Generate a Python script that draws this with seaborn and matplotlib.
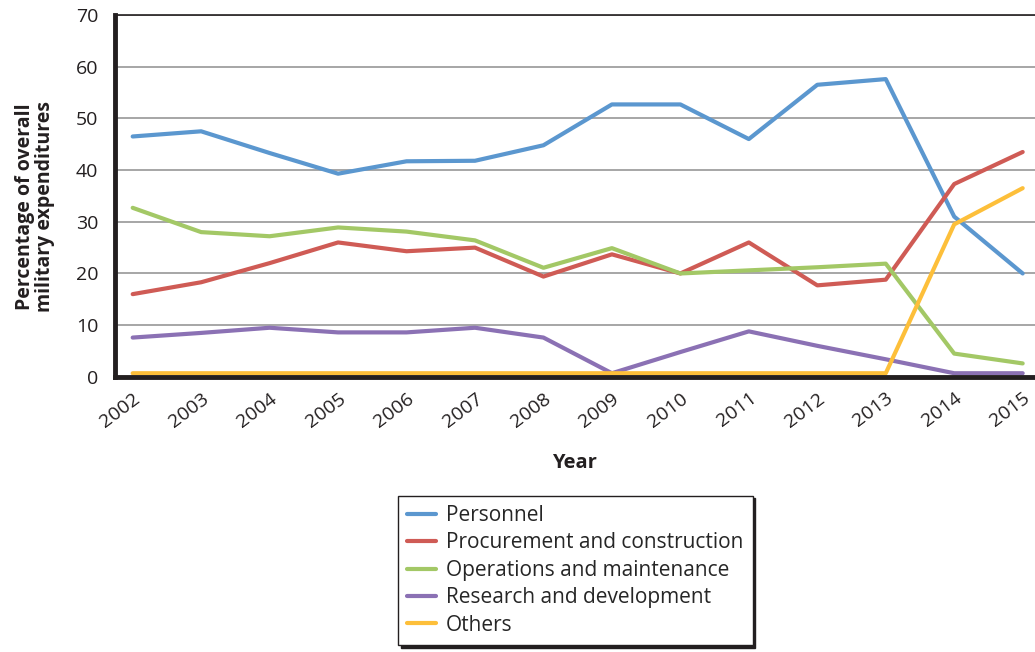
import numpy as np
import pandas as pd
import seaborn as sns
import matplotlib.pyplot as plt

# dados
years = list(range(2002, 2016))
personnel = [46.5, 47.5, 43.3, 39.3, 41.7, 41.8, 44.8, 52.7, 52.7, 46.0, 56.5, 57.6, 31.0, 20.0]
procurement = [16.0, 18.3, 22.0, 26.0, 24.3, 25.0, 19.4, 23.7, 20.0, 26.0, 17.7, 18.8, 37.3, 43.5]
operations = [32.7, 28.0, 27.2, 28.9, 28.1, 26.4, 21.1, 24.9, 20.0, 20.6, 21.2, 21.9, 4.5, 2.6]
research = [7.6, 8.5, 9.5, 8.6, 8.6, 9.5, 7.6, 0.7, 4.8, 8.8, 6.0, 3.4, 0.7, 0.7]
others = [0.7, 0.7, 0.7, 0.7, 0.7, 0.7, 0.7, 0.7, 0.7, 0.7, 0.7, 0.7, 29.5, 36.5]

series_names = ['Personnel', 'Procurement and construction', 'Operations and maintenance',
                'Research and development', 'Others']
colors = ['#5b97cf', '#cf5b55', '#a3c866', '#8b71b4', '#fdbf3a']

df = pd.DataFrame({'Year': years})
for name, vals in zip(series_names, [personnel, procurement, operations, research, others]):
    df[name] = vals
long = df.melt(id_vars='Year', var_name='series', value_name='value')

sns.set_style('white')
plt.rcParams['font.family'] = ['Open Sans', 'DejaVu Sans']

fig = plt.figure(figsize=(10.35, 6.52), dpi=100)
ax = fig.add_axes([0.111, 0.422, 0.889, 0.555])

sns.lineplot(data=long, x='Year', y='value', hue='series', hue_order=series_names,
             palette=colors, linewidth=3, ax=ax, legend=False)

ax.set_xlim(2001.74, 2015.18)
ax.set_ylim(0, 70)
ax.set_yticks(range(0, 71, 10))
ax.set_xticks(years)
ax.yaxis.grid(True, color='#a6a6a6', linewidth=1.4)
ax.set_axisbelow(True)

for s in ['left', 'bottom']:
    ax.spines[s].set_linewidth(3.5)
    ax.spines[s].set_color('#231f20')
ax.spines['top'].set_linewidth(1.2)
ax.spines['top'].set_color('#231f20')
ax.spines['right'].set_visible(False)

ax.tick_params(axis='y', length=0, pad=12, labelsize=14, colors='#231f20')
ax.tick_params(axis='x', direction='in', length=8, width=1, color='#231f20',
               pad=9, labelsize=14, labelcolor='#231f20')
for lab in ax.get_xticklabels():
    lab.set_rotation(37)
    lab.set_ha('right')
    lab.set_rotation_mode('anchor')

ax.set_xlabel('Year', fontsize=14.5, fontweight='bold', labelpad=16, color='#231f20')
ax.set_ylabel('Percentage of overall\nmilitary expenditures', fontsize=14,
              fontweight='bold', color='#231f20', linespacing=1.0)
ax.yaxis.set_label_coords(-0.065, 0.47)

handles = [plt.Line2D([], [], color=c, linewidth=3) for c in colors]
leg = fig.legend(handles, series_names, loc='upper left', bbox_to_anchor=(0.3845, 0.24),
                 borderaxespad=0, frameon=True, fancybox=False,
                 shadow={'ox': 2, 'oy': -2, 'color': '#231f20', 'alpha': 1},
                 fontsize=15, handlelength=1.4, handletextpad=0.45, labelspacing=0.31,
                 borderpad=0.45, edgecolor='#231f20')
leg.get_frame().set_linewidth(1.0)

fig.savefig('out.png', dpi=100)
